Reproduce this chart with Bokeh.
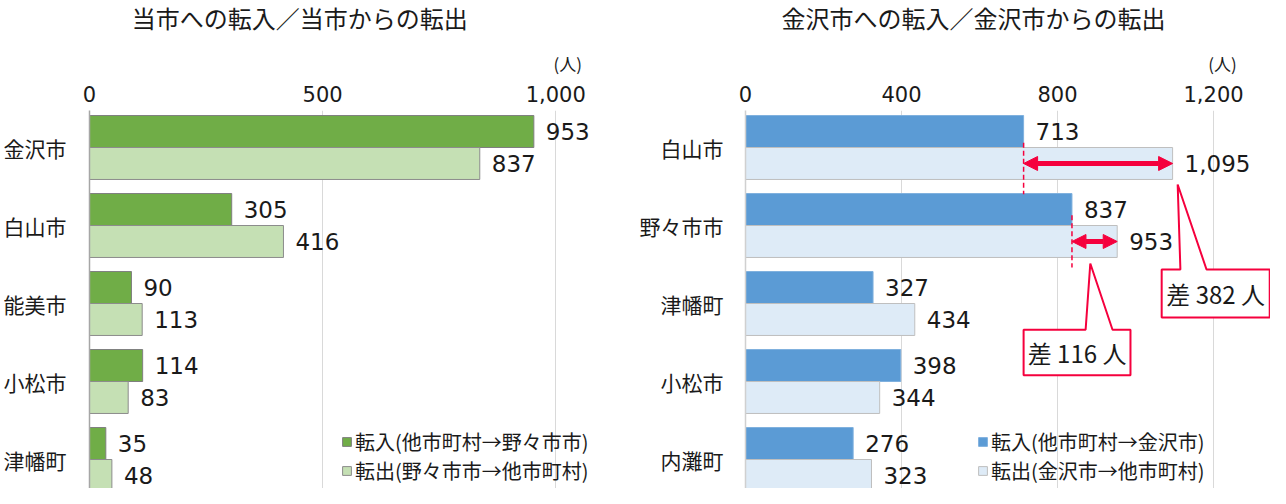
from bokeh.plotting import figure
from bokeh.models import (Range1d, FixedTicker, NumeralTickFormatter, Legend, LegendItem,
                          Arrow, NormalHead)
from bokeh.layouts import row, column
from bokeh.core.properties import value
from bokeh.embed import file_html
from bokeh.resources import INLINE

# ---------------- data ----------------
left_title = "当市への転入／当市からの転出"
left_cats = ["金沢市", "白山市", "能美市", "小松市", "津幡町"]
left_in = [953, 305, 90, 114, 35]
left_out = [837, 416, 113, 83, 48]
left_ticks = [0, 500, 1000]
left_legend = ["転入(他市町村→野々市市)", "転出(野々市市→他市町村)"]

right_title = "金沢市への転入／金沢市からの転出"
right_cats = ["白山市", "野々市市", "津幡町", "小松市", "内灘町"]
right_in = [713, 837, 327, 398, 276]
right_out = [1095, 953, 434, 344, 323]
right_ticks = [0, 400, 800, 1200]
right_legend = ["転入(他市町村→金沢市)", "転出(金沢市→他市町村)"]

unit_label = "(人)"
# categories that get a difference arrow + callout on the right chart
diff_cats = ["白山市", "野々市市"]

JP = "Noto Sans CJK JP"
NUM = "DejaVu Sans"
RED = "#F5003D"
TXT = "#1a1a1a"

HEAD_H = 76          # header strip (title + unit)
MAIN_H = 412         # chart strip
TOP = 34             # room for the top axis labels
PX_PER_CAT = 78.0


def make_panel(title, cats, v_in, v_out, ticks, legend_labels, fig_w, x_end, border_left,
               label_standoff, c_in, c_in_line, c_out, c_out_line, axis_color, title_dx,
               legend_x, legend_y, unit_dx):
    n = len(cats)
    centers = [n - 1 - i for i in range(n)]
    bh = 0.41
    y_top = n - 1 + 37 / PX_PER_CAT
    y_bot = y_top - (MAIN_H - TOP) / PX_PER_CAT
    xr = Range1d(0, x_end)

    # ---- header strip: title + unit ----
    h = figure(width=fig_w, height=HEAD_H, output_backend="svg", toolbar_location=None,
               x_range=xr, y_range=Range1d(0, HEAD_H), min_border_left=border_left,
               min_border_right=0, min_border_top=0, min_border_bottom=0)
    h.axis.visible = False
    h.grid.visible = False
    h.outline_line_color = None
    h.text(x=[ticks[-1] / 2], y=[HEAD_H - 17], text=[title], x_offset=title_dx,
           text_align="center", text_baseline="middle", text_font=value(JP),
           text_font_size="24px", text_color=TXT)
    h.text(x=[ticks[-1]], y=[13], text=[unit_label], x_offset=unit_dx,
           text_align="center", text_baseline="middle", text_font=value(JP),
           text_font_size="17px", text_color=TXT)

    # ---- chart ----
    p = figure(width=fig_w, height=MAIN_H, output_backend="svg", toolbar_location=None,
               x_range=xr, y_range=Range1d(y_bot, y_top),
               x_axis_location="above", min_border_left=border_left,
               min_border_right=0, min_border_top=TOP, min_border_bottom=0)
    p.outline_line_color = None

    xa = p.xaxis[0]
    xa.ticker = FixedTicker(ticks=ticks)
    xa.formatter = NumeralTickFormatter(format="0,0")
    xa.major_label_text_font = NUM
    xa.major_label_text_font_size = "21px"
    xa.major_label_text_color = TXT
    xa.major_label_standoff = 9
    xa.major_tick_out = 0
    xa.major_tick_in = 0
    xa.axis_line_color = None
    xa.major_tick_line_color = None
    xa.minor_tick_line_color = None
    p.xgrid.ticker = FixedTicker(ticks=ticks)
    p.xgrid.grid_line_color = "#d9d9d9"
    p.ygrid.grid_line_color = None

    ya = p.yaxis[0]
    ya.ticker = FixedTicker(ticks=centers)
    ya.major_label_overrides = {c: cat for c, cat in zip(centers, cats)}
    ya.major_label_text_font = JP
    ya.major_label_text_font_size = "21px"
    ya.major_label_text_color = TXT
    ya.major_label_standoff = label_standoff
    ya.axis_line_color = axis_color
    ya.axis_line_width = 1.5
    ya.major_tick_line_color = None
    ya.minor_tick_line_color = None

    y_in = [c + bh / 2 for c in centers]
    y_out = [c - bh / 2 for c in centers]
    r_in = p.hbar(y=y_in, left=0, right=v_in, height=bh, fill_color=c_in,
                  line_color=c_in_line, line_width=1)
    r_out = p.hbar(y=y_out, left=0, right=v_out, height=bh, fill_color=c_out,
                   line_color=c_out_line, line_width=1)

    fmt = lambda v: f"{v:,}"
    p.text(x=v_in, y=y_in, text=[fmt(v) for v in v_in], x_offset=12,
           text_baseline="middle", text_font=value(NUM), text_font_size="23px",
           text_color=TXT)
    p.text(x=v_out, y=y_out, text=[fmt(v) for v in v_out], x_offset=12,
           text_baseline="middle", text_font=value(NUM), text_font_size="23px",
           text_color=TXT)

    legend = Legend(items=[LegendItem(label=legend_labels[0], renderers=[r_in]),
                           LegendItem(label=legend_labels[1], renderers=[r_out])],
                    location=(legend_x, legend_y), glyph_width=11, glyph_height=11,
                    label_text_font=JP, label_text_font_size="20px",
                    label_text_color=TXT, label_standoff=3, label_height=20,
                    label_text_line_height=1.0,
                    spacing=0, padding=0, margin=0, background_fill_alpha=0,
                    border_line_color=None)
    p.add_layout(legend, "center")
    return h, p, centers, bh


hl, pl, _, _ = make_panel(left_title, left_cats, left_in, left_out, left_ticks, left_legend,
                          635, 1171, 80, 17, "#70AD47", "#7f7f7f", "#C5E0B4", "#8c8c8c",
                          "#a6a6a6", -23, 252, 3, 12)
hr, pr, rcent, rbh = make_panel(right_title, right_cats, right_in, right_out, right_ticks,
                                right_legend, 635, 1346, 110, 16, "#5B9BD5", "#7fb0de",
                                "#DEEBF7", "#bfbfbf", "#d0d0d0", -6, 232, 3, 9)

# ----- difference annotations on the right chart -----
# callout layout (offsets relative to the category centre / values, in data units)
callouts = {
    "白山市": dict(dash=(0.06, -0.6), apex=(13, -0.474), box_x=(1067, 1344),
                 base_x=(1115, 1182), box_y=(-1.564, -2.18)),
    "野々市市": dict(dash=(0.13, -0.54), apex=(-69, -0.487), box_x=(713, 987),
                  base_x=(872, 941), box_y=(-1.337, -1.919)),
}
for cat in diff_cats:
    i = right_cats.index(cat)
    yc = rcent[i]
    vin, vout = right_in[i], right_out[i]
    ya_ = yc - rbh / 2
    c = callouts[cat]
    pr.segment(x0=[vin], y0=[yc + c["dash"][0]], x1=[vin], y1=[yc + c["dash"][1]],
               line_color=RED, line_width=1.5, line_dash="5 3")
    pr.add_layout(Arrow(x_start=vin, y_start=ya_, x_end=vout, y_end=ya_,
                        line_color=RED, line_width=5,
                        start=NormalHead(size=14, fill_color=RED, line_color=RED),
                        end=NormalHead(size=14, fill_color=RED, line_color=RED)))
    bx0, bx1 = c["box_x"]
    b0, b1 = c["base_x"]
    top, bot = yc + c["box_y"][0], yc + c["box_y"][1]
    ax, ay = vout + c["apex"][0], yc + c["apex"][1]
    xs = [bx0, b0, ax, b1, bx1, bx1, bx0]
    ys = [top, top, ay, top, top, bot, bot]
    pr.patch(xs, ys, fill_color="white", line_color=RED, line_width=2)
    pr.text(x=[(bx0 + bx1) / 2], y=[(top + bot) / 2], text=[f"差 {vout - vin} 人"],
            text_align="center", text_baseline="middle", text_font=value(JP),
            text_font_size="24px", text_color=TXT)

layout = row(column(hl, pl), column(hr, pr))
open("out.html", "w").write(file_html(layout, INLINE))
